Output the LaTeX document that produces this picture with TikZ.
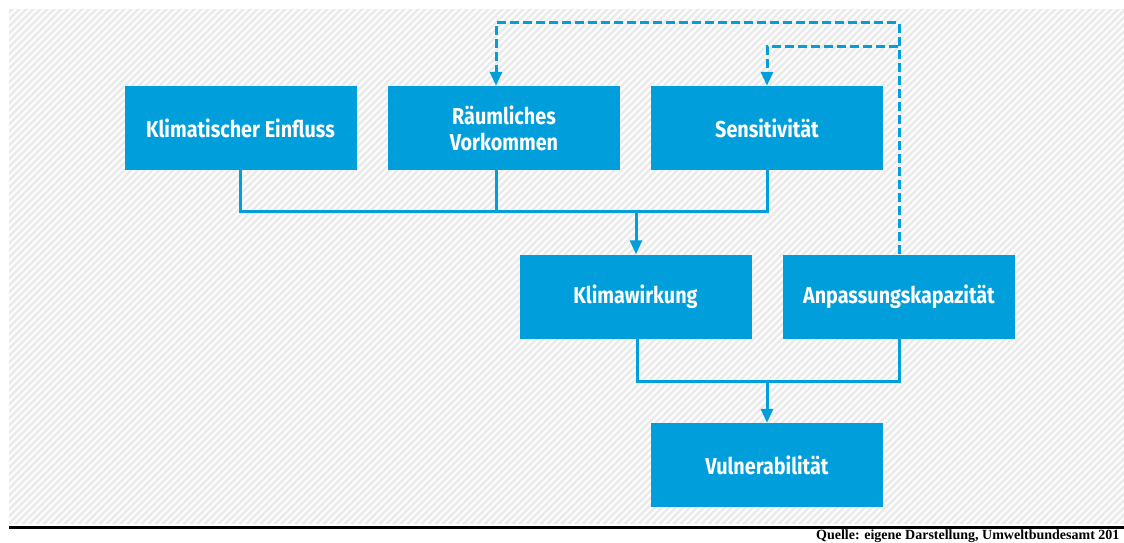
\documentclass[tikz,border=0pt]{standalone}
\usepackage{fontspec}
\setmainfont{Fira Sans}[FakeStretch=0.86]
\newfontfamily\quellefont{Liberation Serif}
\usetikzlibrary{arrows.meta}
\definecolor{uba}{RGB}{0,158,218}
\definecolor{hatch}{RGB}{234,234,234}
\begin{document}
\begin{tikzpicture}[x=1pt,y=-1pt,
    box/.style={fill=uba, text=white, font=\bfseries\fontsize{23}{26}\selectfont,
      align=center, minimum width=232pt, minimum height=84pt, inner sep=0pt},
    link/.style={uba, line width=3pt},
    feed/.style={link, dash pattern=on 9pt off 4pt},
    tip/.style={-{Triangle[width=12pt,length=14pt]}}]
    \useasboundingbox (0,0) rectangle (1124,543);
    \fill[hatch] (9,9) rectangle (1124,524);
    \begin{scope}
      \clip (9,9) rectangle (1124,524);
      \foreach \i in {0,7,...,1630}
        \draw[white!85!hatch, line width=2.2pt] (\i-506,524) -- ++(515,-515);
    \end{scope}
    \draw[line width=3pt] (9,527) -- (1124,527);
    \node[anchor=base east, font=\quellefont\bfseries\fontsize{14}{16}\selectfont] (quelle)
      at (1123,539) {Quelle: eigene Darstellung, Umweltbundesamt 201};

    \node[box] (einfluss) at (240.5,128) {Klimatischer Einfluss};
    \node[box] (vorkommen) at (504,128) {Räumliches\\Vorkommen};
    \node[box] (sensitiv) at (767,128) {Sensitivität};
    \node[box] (wirkung) at (635.5,296.5) {Klimawirkung};
    \node[box] (anpassung) at (899,296.5) {Anpassungskapazität};
    \node[box] (vulner) at (767,465) {Vulnerabilität};

    \coordinate (j1) at (636,211);
    \coordinate (j2) at (767,381);
    \coordinate (top) at (898,23);
    \coordinate (mid) at (898,47);
    \coordinate (rin) at ([xshift=-8pt]vorkommen.north);
    \coordinate (rout) at ([xshift=-8pt]vorkommen.south);

    \draw[link] (einfluss.south) |- (j1);
    \draw[link] (sensitiv.south) |- (j1);
    \draw[link] (rout) -- (rout |- j1);
    \draw[link, tip] (j1) -- (j1 |- wirkung.north);
    \draw[link] ([xshift=1.5pt]wirkung.south) |- (j2);
    \draw[link] (anpassung.south) |- (j2);
    \draw[link, tip] (j2) -- (vulner.north);

    \draw[feed, tip] (anpassung.north) |- (rin |- top) -- (rin);
    \draw[feed, tip] (mid) -| (sensitiv.north);
\end{tikzpicture}
\end{document}
